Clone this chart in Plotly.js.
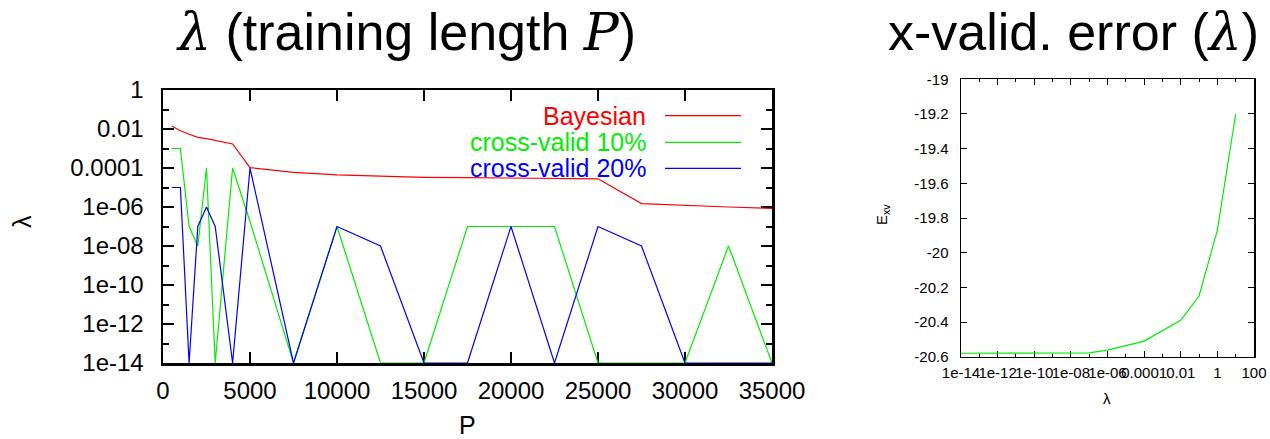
<!DOCTYPE html>
<html>
<head>
<meta charset="utf-8">
<script src="https://cdn.plot.ly/plotly-3.0.1.min.js"></script>
<style>html,body{margin:0;padding:0;background:#fff;}#chart{width:1270px;height:439px;}</style>
</head>
<body>
<div id="chart"></div>
<script>
// ---- Left panel data: lambda vs training length P ----
const P = [500, 1000, 1500, 2000, 2500, 3000, 4000, 5000, 7500, 10000, 12500, 15000, 17500, 20000, 22500, 25000, 27500, 30000, 32500, 35000];
const bayesian = [0.0141, 0.0081, 0.0054, 0.0037, 0.0032, 0.0026, 0.0017, 1.05e-4, 6e-5, 4.4e-5, 3.8e-5, 3.3e-5, 3.2e-5, 3.0e-5, 2.9e-5, 2.8e-5, 1.5e-6, 1.2e-6, 1.0e-6, 8.5e-7];
const crossValid10 = [1e-3, 1e-3, 1e-7, 1e-8, 1e-4, 1e-14, 1e-4, 1.8e-7, 1e-14, 1e-7, 1e-14, 1e-14, 1e-7, 1e-7, 1e-7, 1e-14, 1e-14, 1e-14, 1e-8, 1e-14];
const crossValid20 = [1e-5, 1e-5, 1e-14, 1e-7, 1e-6, 1e-7, 1e-14, 1e-4, 1e-14, 1e-7, 1e-8, 1e-14, 1e-14, 1e-7, 1e-14, 1e-7, 1e-8, 1e-14, 1e-14, 1e-14];
const seriesNames = ["Bayesian", "cross-valid 10%", "cross-valid 20%"];
const seriesColors = ["#ff0000", "#00ee00", "#0000ff"];

const leftXTicks = [0, 5000, 10000, 15000, 20000, 25000, 30000, 35000];
const leftXTickText = ["0", "5000", "10000", "15000", "20000", "25000", "30000", "35000"];
const leftYTicks = [1, 1e-2, 1e-4, 1e-6, 1e-8, 1e-10, 1e-12, 1e-14];
const leftYTickText = ["1", "0.01", "0.0001", "1e-06", "1e-08", "1e-10", "1e-12", "1e-14"];

// ---- Right panel data: cross-validation error vs lambda ----
const lambdaVals = [1e-14, 1e-12, 1e-10, 1e-8, 1e-7, 1e-6, 1e-5, 1e-4, 1e-2, 1e-1, 1, 10];
const exvVals = [-20.58, -20.58, -20.58, -20.58, -20.578, -20.562, -20.537, -20.51, -20.39, -20.25, -19.87, -19.2];
const rightXTicks = [1e-14, 1e-12, 1e-10, 1e-8, 1e-6, 1e-4, 1e-2, 1, 100];
const rightXTickText = ["1e-14", "1e-12", "1e-10", "1e-08", "1e-06", "0.0001", "0.01", "1", "100"];
const rightYTicks = [-19, -19.2, -19.4, -19.6, -19.8, -20, -20.2, -20.4, -20.6];
const rightYTickText = ["-19", "-19.2", "-19.4", "-19.6", "-19.8", "-20", "-20.2", "-20.4", "-20.6"];

const W = 1270, H = 439;
const px = v => v / W;
const py = v => (H - v) / H;
const FONT = "Liberation Sans, Arial, sans-serif";

const leftSeries = [bayesian, crossValid10, crossValid20];
const traces = leftSeries.map((ys, i) => ({
  type: "scatter", mode: "lines", x: P, y: ys, name: seriesNames[i],
  line: {color: seriesColors[i], width: 1.2}, xaxis: "x", yaxis: "y", showlegend: false
}));
traces.push({
  type: "scatter", mode: "lines", x: lambdaVals, y: exvVals,
  line: {color: "#00ee00", width: 1.2}, xaxis: "x2", yaxis: "y2", showlegend: false
});

// legend (gnuplot style: text right-aligned, sample to the right)
const legendY = [115.7, 142.3, 168.3];
const annotations = [];
const shapes = [];
seriesNames.forEach((n, i) => {
  annotations.push({xref: "paper", yref: "paper", x: px(648), y: py(legendY[i]), xanchor: "right", yanchor: "middle",
    text: n, showarrow: false, font: {family: FONT, size: 25, color: seriesColors[i]}});
  shapes.push({type: "line", xref: "paper", yref: "paper", x0: px(665), x1: px(741), y0: py(legendY[i]), y1: py(legendY[i]),
    line: {color: seriesColors[i], width: 1.3}});
});
// titles
annotations.push({xref: "paper", yref: "paper", x: px(406), y: py(32), xanchor: "center", yanchor: "middle", showarrow: false,
  text: '<span style="font-family:DejaVu Serif;font-style:italic">λ</span> (training length <span style="font-family:DejaVu Serif;font-style:italic">P</span>)',
  font: {family: FONT, size: 52, color: "#000"}});
annotations.push({xref: "paper", yref: "paper", x: px(1073), y: py(32), xanchor: "center", yanchor: "middle", showarrow: false,
  text: 'x-valid. error (<span style="font-family:DejaVu Serif;font-style:italic">λ</span>)',
  font: {family: FONT, size: 52, color: "#000"}});
// axis titles
annotations.push({xref: "paper", yref: "paper", x: px(467), y: py(425), xanchor: "center", yanchor: "middle", showarrow: false,
  text: "P", font: {family: FONT, size: 25, color: "#000"}});
annotations.push({xref: "paper", yref: "paper", x: px(22), y: py(222), xanchor: "center", yanchor: "middle", showarrow: false,
  text: "λ", textangle: -90, font: {family: FONT, size: 25, color: "#000"}});
annotations.push({xref: "paper", yref: "paper", x: px(1107), y: py(398), xanchor: "center", yanchor: "middle", showarrow: false,
  text: "λ", font: {family: FONT, size: 15, color: "#000"}});
annotations.push({xref: "paper", yref: "paper", x: px(883), y: py(215), xanchor: "center", yanchor: "middle", showarrow: false,
  text: "E<sub>xv</sub>", textangle: -90, font: {family: FONT, size: 15, color: "#000"}});

const layout = {
  width: W, height: H, margin: {l: 0, r: 0, t: 0, b: 0}, paper_bgcolor: "#fff", plot_bgcolor: "#fff",
  showlegend: false, font: {family: FONT, color: "#000"},
  xaxis: {
    domain: [px(163), px(772)], range: [0, 35000], tickmode: "array", tickvals: leftXTicks, ticktext: leftXTickText,
    ticks: "inside", ticklen: 11, tickwidth: 2, tickcolor: "#000", showline: true, linecolor: "#000", linewidth: 2.5,
    mirror: "allticks", showgrid: false, zeroline: false, tickfont: {size: 24, family: FONT}, ticklabelstandoff: 5,
    tickangle: 0, layer: "below traces", anchor: "y"
  },
  yaxis: {
    domain: [py(363), py(90)], type: "log", range: [-14, 0], tickmode: "array", tickvals: leftYTicks, ticktext: leftYTickText,
    ticks: "inside", ticklen: 11, tickwidth: 2, tickcolor: "#000", showline: true, linecolor: "#000", linewidth: 2.5,
    mirror: "allticks", showgrid: false, zeroline: false, tickfont: {size: 24, family: FONT}, ticklabelstandoff: 12,
    minor: {tickmode: "linear", tick0: 0, dtick: 1, ticks: "inside", ticklen: 6, tickwidth: 2, tickcolor: "#000", showgrid: false},
    layer: "below traces", anchor: "x"
  },
  xaxis2: {
    domain: [px(961), px(1254)], type: "log", range: [-14, 2.0005], tickmode: "array", tickvals: rightXTicks, ticktext: rightXTickText,
    ticks: "inside", ticklen: 6, tickwidth: 1, tickcolor: "#000", showline: true, linecolor: "#000", linewidth: 1.5,
    mirror: "allticks", showgrid: false, zeroline: false, tickfont: {size: 15, family: FONT}, ticklabelstandoff: 2,
    tickangle: 0,
    minor: {tickmode: "linear", tick0: 0, dtick: 1, ticks: "inside", ticklen: 3, tickwidth: 1, tickcolor: "#000", showgrid: false},
    layer: "below traces", anchor: "y2"
  },
  yaxis2: {
    domain: [py(356.7), py(79.3)], range: [-20.6, -19], tickmode: "array", tickvals: rightYTicks, ticktext: rightYTickText,
    ticks: "inside", ticklen: 6, tickwidth: 1, tickcolor: "#000", showline: true, linecolor: "#000", linewidth: 1.5,
    mirror: "allticks", showgrid: false, zeroline: false, tickfont: {size: 15, family: FONT}, ticklabelstandoff: 8,
    layer: "below traces", anchor: "x2"
  },
  annotations: annotations,
  shapes: shapes
};

Plotly.newPlot("chart", traces, layout, {staticPlot: true, displayModeBar: false});
</script>
</body>
</html>
